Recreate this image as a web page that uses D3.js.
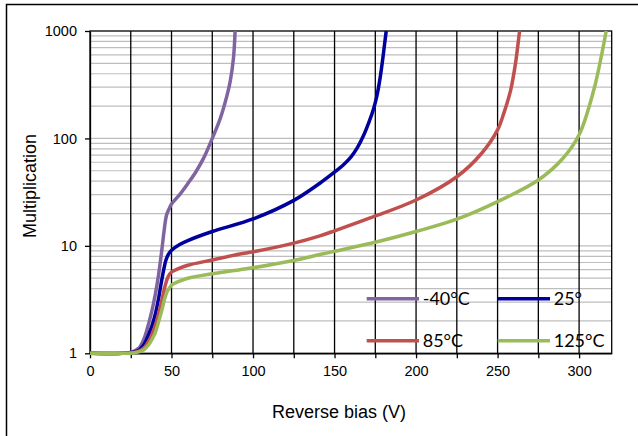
<!DOCTYPE html>
<html>
<head>
<meta charset="utf-8">
<script src="https://cdn.jsdelivr.net/npm/d3@7"></script>
<style>
    body { margin: 0; background: #fff; }
    svg { display: block; }
</style>
</head>
<body>
<div id="chart-area"></div>
<script>
// values
var seriesNames = ["-40°C", "25°", "85°C", "125°C"];
var seriesColors = ["#8064A2", "#00009C", "#C0504D", "#9BBB59"];

var voltsMinus40 = [0, 20, 25, 30, 33, 36, 38, 40, 42, 44, 45.5, 47, 48.5, 50, 55, 60, 65, 70, 75, 80, 84, 86, 88, 89];
var multMinus40  = [1, 1, 1.02, 1.12, 1.35, 1.9, 2.5, 3.5, 5.3, 9, 14, 19.5, 22, 24.5, 30, 38, 49, 67, 100, 155, 250, 340, 560, 1000];

var volts25 = [0, 20, 25, 30, 33, 36, 38, 40, 42, 44, 45.5, 46.5, 48, 50, 55, 60, 75, 100, 125, 141, 150, 155, 160, 164, 168, 171, 174, 176, 178, 179.5, 180.8, 181.7];
var mult25  = [1, 1, 1.02, 1.07, 1.2, 1.5, 1.8, 2.3, 3.2, 4.8, 6.3, 7.3, 8.3, 9.1, 10.3, 11.2, 13.6, 17.8, 26.5, 38.3, 48.6, 56, 67, 82, 108, 140, 190, 250, 370, 540, 780, 1000];

var volts85 = [0, 20, 25, 30, 33, 36, 38, 40, 42, 44, 46, 47.5, 49, 50, 55, 60, 75, 92, 100, 125, 141, 150, 171, 200, 225, 240, 250, 254, 258, 261, 262.5, 263.5];
var mult85  = [1, 1, 1.01, 1.05, 1.12, 1.3, 1.5, 1.8, 2.3, 3.1, 4.2, 5, 5.5, 5.7, 6.2, 6.6, 7.4, 8.4, 8.8, 10.6, 12.4, 13.8, 18, 26.7, 44, 72, 120, 175, 280, 500, 750, 1000];

var volts125 = [0, 20, 25, 30, 33, 36, 38, 40, 42, 44, 46, 47.5, 49, 50, 55, 60, 75, 92, 100, 125, 141, 150, 175, 200, 225, 250, 275, 290, 300, 309, 314, 316.6];
var mult125  = [1, 1, 1, 1.03, 1.08, 1.2, 1.35, 1.55, 1.95, 2.5, 3.3, 3.8, 4.1, 4.3, 4.7, 5, 5.5, 6.0, 6.25, 7.3, 8.3, 8.9, 10.8, 13.6, 17.7, 25.8, 41, 65, 108, 282, 620, 1000];

var xTicks = [0, 25, 50, 75, 100, 125, 150, 175, 200, 225, 250, 275, 300];
var yTicks = [1, 10, 100, 1000];

MultChart = function(_parentElement){
    this.parentElement = _parentElement;
    this.initVis();
};

MultChart.prototype.initVis = function(){
    var vis = this;

    vis.margin = {top: 31, right: 26.3, bottom: 82.7, left: 90};
    vis.width = 638 - vis.margin.left - vis.margin.right;
    vis.height = 436 - vis.margin.top - vis.margin.bottom;

    vis.svg = d3.select("#" + vis.parentElement).append("svg")
        .attr("width", 638)
        .attr("height", 436);

    // outer chart frame (runs off the right and bottom edge in the reference)
    vis.svg.append("rect")
        .attr("x", 6.5).attr("y", 4.5)
        .attr("width", 660).attr("height", 460)
        .attr("fill", "none")
        .attr("stroke", "#000")
        .attr("stroke-width", 1.5);

    vis.g = vis.svg.append("g")
        .attr("transform", "translate(" + vis.margin.left + "," + vis.margin.top + ")");

    vis.x = d3.scaleLinear().domain([0, 320]).range([0, vis.width]);
    vis.y = d3.scaleLog().domain([1, 1000]).range([vis.height, 0]);

    vis.series = seriesNames.map(function(name, i){
        var v = [voltsMinus40, volts25, volts85, volts125][i];
        var m = [multMinus40, mult25, mult85, mult125][i];
        return {name: name, color: seriesColors[i], values: v.map(function(d, j){ return {v: d, m: m[j]}; })};
    });

    vis.updateVis();
};

MultChart.prototype.updateVis = function(){
    var vis = this;

    // minor horizontal gridlines
    var hLines = [];
    [1, 10, 100].forEach(function(dec){
        d3.range(2, 11).forEach(function(k){ if (dec * k < 1000) hLines.push(dec * k); });
    });
    vis.g.append("g").selectAll("line")
        .data(hLines)
        .enter().append("line")
        .attr("x1", 0).attr("x2", vis.width)
        .attr("y1", function(d){ return vis.y(d); })
        .attr("y2", function(d){ return vis.y(d); })
        .attr("stroke", "#BEBEBE")
        .attr("stroke-width", 1.2);

    // black vertical gridlines
    vis.g.append("g").selectAll("line")
        .data(xTicks.filter(function(d){ return d > 0; }))
        .enter().append("line")
        .attr("x1", function(d){ return vis.x(d); })
        .attr("x2", function(d){ return vis.x(d); })
        .attr("y1", 0).attr("y2", vis.height)
        .attr("stroke", "#000")
        .attr("stroke-width", 1.3);

    // plot frame
    vis.g.append("rect")
        .attr("width", vis.width).attr("height", vis.height)
        .attr("fill", "none")
        .attr("stroke", "#000")
        .attr("stroke-width", 1.3);

    // axes
    var xAxis = d3.axisBottom(vis.x)
        .tickValues(xTicks)
        .tickFormat(function(d){ return d % 50 === 0 ? d : ""; })
        .tickSize(5).tickSizeOuter(0).tickPadding(7);
    var yAxis = d3.axisLeft(vis.y)
        .tickValues(yTicks)
        .tickFormat(d3.format("d"))
        .tickSize(5).tickSizeOuter(0).tickPadding(8);

    vis.g.append("g")
        .attr("transform", "translate(0," + vis.height + ")")
        .call(xAxis);
    vis.g.append("g").call(yAxis);

    vis.g.selectAll(".tick text")
        .attr("font-family", "'Liberation Sans', Arial, sans-serif")
        .attr("font-size", 14.5)
        .attr("font-weight", "normal")
        .attr("fill", "#000");
    vis.g.selectAll(".tick line").attr("stroke", "#000").attr("stroke-width", 1.3);
    vis.g.selectAll(".domain").attr("stroke", "#000").attr("stroke-width", 1.3);

    // curves
    vis.line = d3.line()
        .x(function(d){ return vis.x(d.v); })
        .y(function(d){ return vis.y(d.m); })
        .curve(d3.curveCatmullRom.alpha(0.5));

    vis.g.selectAll(".curve")
        .data(vis.series)
        .enter().append("path")
        .attr("class", "curve")
        .attr("d", function(d){ return vis.line(d.values); })
        .attr("fill", "none")
        .attr("stroke", function(d){ return d.color; })
        .attr("stroke-width", 3.5)
        .attr("stroke-linejoin", "round");

    // axis titles
    vis.svg.append("text")
        .attr("x", 339).attr("y", 418)
        .attr("text-anchor", "middle")
        .attr("font-family", "'Liberation Sans', Arial, sans-serif")
        .attr("font-size", 18)
        .text("Reverse bias (V)");
    vis.svg.append("text")
        .attr("transform", "translate(35.5,186) rotate(-90)")
        .attr("text-anchor", "middle")
        .attr("font-family", "'Liberation Sans', Arial, sans-serif")
        .attr("font-size", 18)
        .text("Multiplication");

    // legend, 2x2, no background
    var legend = vis.svg.append("g")
        .selectAll("g")
        .data(vis.series)
        .enter().append("g")
        .attr("transform", function(d, i){
            return "translate(" + (366.7 + (i % 2) * 131) + "," + (298.7 + Math.floor(i / 2) * 42) + ")";
        });
    legend.append("line")
        .attr("x1", 0).attr("x2", 52.3)
        .attr("stroke", function(d){ return d.color; })
        .attr("stroke-width", 3.5);
    legend.append("text")
        .attr("x", 56)
        .attr("dy", "0.36em")
        .attr("font-family", "Lato, 'Open Sans', sans-serif")
        .attr("font-size", 18)
        .text(function(d){ return d.name; });
};

new MultChart("chart-area");
</script>
</body>
</html>
